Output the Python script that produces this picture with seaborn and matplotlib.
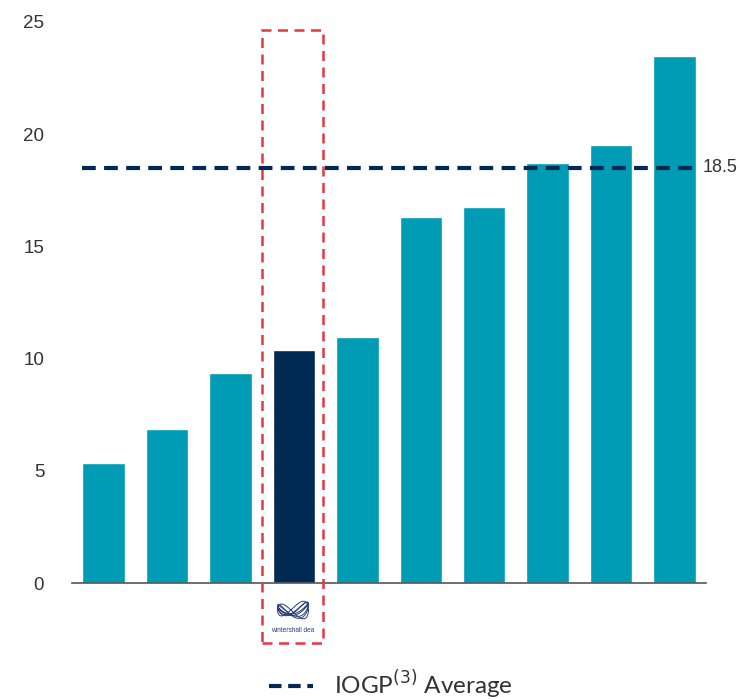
import numpy as np
import pandas as pd
import matplotlib
matplotlib.use("Agg")
import matplotlib.pyplot as plt
from matplotlib.lines import Line2D
from matplotlib.patches import Rectangle
import seaborn as sns

# Companies ranked by value; the highlighted one is Wintershall Dea
companies = ["Peer 1", "Peer 2", "Peer 3", "Wintershall Dea", "Peer 5",
             "Peer 6", "Peer 7", "Peer 8", "Peer 9", "Peer 10"]
values = [5.35, 6.85, 9.35, 10.4, 10.95, 16.3, 16.75, 18.7, 19.5, 23.5]
highlight = "Wintershall Dea"
iogp_average = 18.5
y_ticks = [0, 5, 10, 15, 20, 25]

TEAL = "#009BB4"
NAVY = "#002A54"
RED = "#E5383F"

sns.set_theme(style="white")
plt.rcParams["font.family"] = ["Liberation Sans", "DejaVu Sans"]

df = pd.DataFrame({"company": companies, "value": values})
df["group"] = np.where(df["company"] == highlight, "highlight", "peer")

fig = plt.figure(figsize=(7.4, 7.0), dpi=100)
ax = fig.add_axes([0.0973, 0.167, 0.857, 0.8016])

sns.barplot(data=df, x="company", y="value", hue="group",
            palette={"peer": TEAL, "highlight": NAVY},
            width=0.67, dodge=False, legend=False, ax=ax, saturation=1)

ax.set_xlim(-0.5, 9.5)
ax.set_ylim(0, 25)
ax.set_yticks(y_ticks)
ax.set_yticklabels([str(t) for t in y_ticks], fontsize=13.5, color="#333333")
ax.set_xticks([])
ax.set_xlabel("")
ax.set_ylabel("")
for s in ["top", "right", "left"]:
    ax.spines[s].set_visible(False)
ax.spines["bottom"].set_color("#555555")
ax.spines["bottom"].set_linewidth(1.2)
ax.tick_params(axis="y", length=0, pad=20)

# IOGP average reference line
dash_style = (0, (3.3, 2.0))
ax.plot([-0.34, 9.36], [iogp_average, iogp_average], color=NAVY, lw=3,
        linestyle=dash_style, zorder=5, clip_on=False)
ax.text(9.44, iogp_average, f"{iogp_average}", fontsize=13, color="#333333",
        va="center", ha="left", clip_on=False)

# Dashed frame around the highlighted company, extending below the axis
frame = Rectangle((262 / 740, 1 - 643 / 700), 61 / 740, 613 / 700,
                  transform=fig.transFigure, fill=False, edgecolor=RED,
                  lw=1.8, linestyle=(0, (4, 2.6)), zorder=10)
fig.patches.append(frame)

# Company logo below the highlighted bar
logo = fig.add_axes([276 / 740, 1 - 622 / 700, 34 / 740, 24 / 700])
t = np.linspace(0, 2 * np.pi, 200)
for k, (a, ph) in enumerate([(0.55, 0.0), (0.45, 0.8), (0.35, 1.6), (0.5, 2.4)]):
    xs = np.cos(t)
    ys = a * np.sin(2 * t + ph) + 0.15 * np.sin(t + k)
    logo.plot(xs, ys, color="#2C3E7A", lw=0.7)
logo.set_xlim(-1.1, 1.1)
logo.set_ylim(-0.9, 0.9)
logo.axis("off")
fig.text(293 / 740, 1 - 630 / 700, "wintershall dea", fontsize=4.7,
         color="#2C3E7A", ha="center", va="center")

# Legend
handle = Line2D([0], [0], color=NAVY, lw=3, linestyle=(0, (3.0, 1.6)))
fig.legend([handle], [r"IOGP$^{(3)}$ Average"], loc="center",
           bbox_to_anchor=(391 / 740, 1 - 685 / 700), frameon=False,
           handlelength=1.8, handletextpad=0.85, borderpad=0.2,
           prop={"family": "Lato", "size": 17.5})
for txt in fig.legends[0].get_texts():
    txt.set_color("#333333")

fig.savefig("out.png", dpi=100)
